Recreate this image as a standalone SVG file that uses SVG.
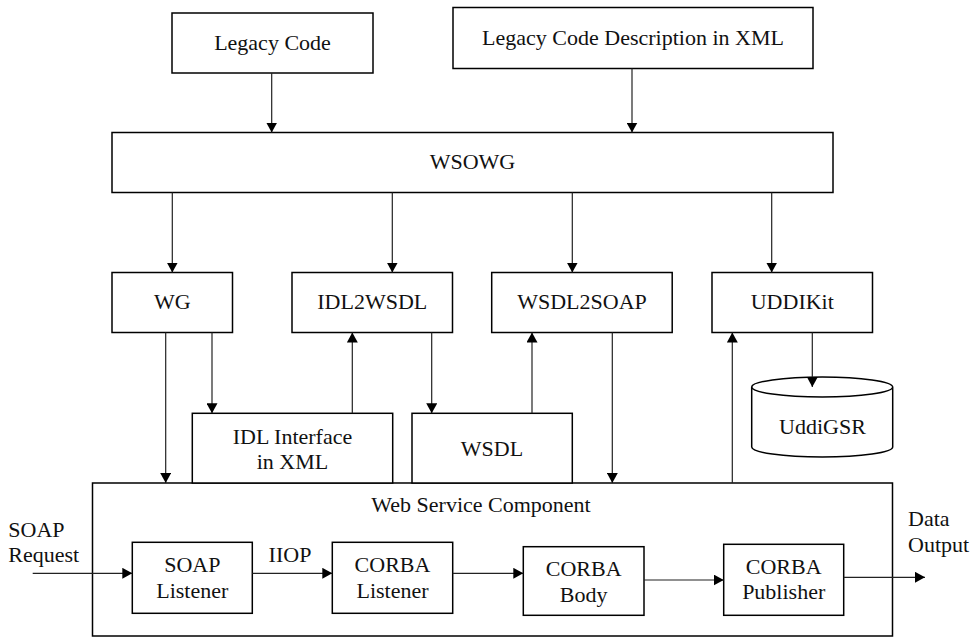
<svg xmlns="http://www.w3.org/2000/svg" width="974" height="637" viewBox="0 0 974 637">
<style>
.box{fill:#fff;stroke:#000;stroke-width:1.5}
.ln{fill:none;stroke:#222;stroke-width:1.2}
text{font-family:"Liberation Serif","Times New Roman",serif;font-size:22px;fill:#111}
.c{text-anchor:middle}
</style>
<defs>
<marker id="ah" markerUnits="userSpaceOnUse" markerWidth="11" markerHeight="11" refX="10" refY="5.5" orient="auto">
<path d="M0,0 L10,5.5 L0,11 z" fill="#000"/>
</marker>
</defs>
<rect width="974" height="637" fill="#fff"/>

<g id="web-service-component">
<rect class="box" x="92.5" y="483" width="800" height="153"/>
<text class="c" x="481" y="512">Web Service Component</text>
</g>
<g id="legacy-code">
<rect class="box" x="172" y="13" width="201" height="60"/>
<text class="c" x="272.5" y="50">Legacy Code</text>
</g>
<g id="legacy-code-desc">
<rect class="box" x="453" y="7.5" width="360" height="61"/>
<text class="c" x="633" y="45">Legacy Code Description in XML</text>
</g>
<g id="wsowg">
<rect class="box" x="112" y="132.5" width="721" height="60"/>
<text class="c" x="472.5" y="168.5">WSOWG</text>
</g>
<g id="wg">
<rect class="box" x="112" y="272.5" width="120.5" height="60"/>
<text class="c" x="172.3" y="308.5">WG</text>
</g>
<g id="idl2wsdl">
<rect class="box" x="292" y="272.5" width="160.5" height="60"/>
<text class="c" x="372.3" y="308.5">IDL2WSDL</text>
</g>
<g id="wsdl2soap">
<rect class="box" x="491.7" y="272.5" width="180.5" height="60"/>
<text class="c" x="582" y="308.5">WSDL2SOAP</text>
</g>
<g id="uddikit">
<rect class="box" x="712" y="272.5" width="160.5" height="60"/>
<text class="c" x="792.3" y="308.5">UDDIKit</text>
</g>
<g id="idl-interface">
<rect class="box" x="192.3" y="413.3" width="200.4" height="69.7"/>
<text class="c" x="292.5" y="443.5">IDL Interface</text>
<text class="c" x="292.5" y="468.5">in XML</text>
</g>
<g id="wsdl">
<rect class="box" x="412" y="413.3" width="160.3" height="69.7"/>
<text class="c" x="492" y="456">WSDL</text>
</g>
<g id="uddigsr">
<path class="box" d="M751.7,387 L751.7,447 A70.5,10 0 0 0 892.7,447 L892.7,387 A70.5,10 0 0 0 751.7,387 A70.5,10 0 0 0 892.7,387"/>
<text class="c" x="822.5" y="433.5">UddiGSR</text>
</g>
<g id="soap-listener">
<rect class="box" x="132.3" y="542.3" width="120" height="71"/>
<text class="c" x="192.3" y="571.7">SOAP</text>
<text class="c" x="192.3" y="597.7">Listener</text>
</g>
<g id="corba-listener">
<rect class="box" x="332.3" y="542.3" width="120.4" height="71"/>
<text class="c" x="392.5" y="571.7">CORBA</text>
<text class="c" x="392.5" y="597.7">Listener</text>
</g>
<g id="corba-body">
<rect class="box" x="523.3" y="546.7" width="120.7" height="68.6"/>
<text class="c" x="583.7" y="576">CORBA</text>
<text class="c" x="583.7" y="601.7">Body</text>
</g>
<g id="corba-publisher">
<rect class="box" x="723.7" y="544.3" width="120" height="71"/>
<text class="c" x="783.7" y="574">CORBA</text>
<text class="c" x="783.7" y="599.3">Publisher</text>
</g>
<g id="labels">
<text x="8.3" y="537">SOAP</text>
<text x="8.3" y="562">Request</text>
<text x="908" y="526">Data</text>
<text x="908" y="552">Output</text>
<text class="c" x="290" y="562">IIOP</text>
</g>

<g id="connectors">
<line class="ln" x1="271.7" y1="73" x2="271.7" y2="132.5" marker-end="url(#ah)"/>
<line class="ln" x1="632" y1="68.5" x2="632" y2="132.5" marker-end="url(#ah)"/>
<line class="ln" x1="172.3" y1="192.5" x2="172.3" y2="272.5" marker-end="url(#ah)"/>
<line class="ln" x1="392.3" y1="192.5" x2="392.3" y2="272.5" marker-end="url(#ah)"/>
<line class="ln" x1="572.3" y1="192.5" x2="572.3" y2="272.5" marker-end="url(#ah)"/>
<line class="ln" x1="771.7" y1="192.5" x2="771.7" y2="272.5" marker-end="url(#ah)"/>
<line class="ln" x1="165.7" y1="332.5" x2="165.7" y2="483" marker-end="url(#ah)"/>
<line class="ln" x1="212" y1="332.5" x2="212" y2="413.3" marker-end="url(#ah)"/>
<line class="ln" x1="352.3" y1="413.3" x2="352.3" y2="332.5" marker-end="url(#ah)"/>
<line class="ln" x1="431.7" y1="332.5" x2="431.7" y2="413.3" marker-end="url(#ah)"/>
<line class="ln" x1="532" y1="413.3" x2="532" y2="332.5" marker-end="url(#ah)"/>
<line class="ln" x1="612.3" y1="332.5" x2="612.3" y2="483" marker-end="url(#ah)"/>
<line class="ln" x1="732.3" y1="483" x2="732.3" y2="332.5" marker-end="url(#ah)"/>
<line class="ln" x1="812.3" y1="332.5" x2="812.3" y2="387" marker-end="url(#ah)"/>
<line class="ln" x1="32.7" y1="573.3" x2="132.3" y2="573.3" marker-end="url(#ah)"/>
<line class="ln" x1="252.3" y1="573.3" x2="332.3" y2="573.3" marker-end="url(#ah)"/>
<line class="ln" x1="452.7" y1="573.3" x2="523.3" y2="573.3" marker-end="url(#ah)"/>
<line class="ln" x1="644" y1="580" x2="723.7" y2="580" marker-end="url(#ah)"/>
<line class="ln" x1="843.7" y1="577.3" x2="925" y2="577.3" marker-end="url(#ah)"/>
</g>
</svg>
